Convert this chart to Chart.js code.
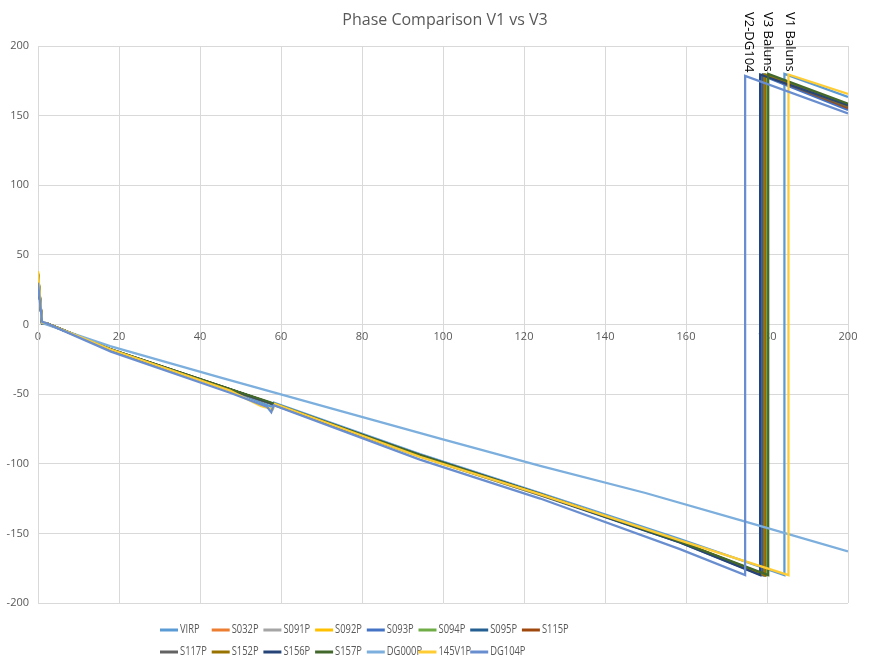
<!DOCTYPE html>
<html>
<head>
<meta charset="utf-8">
<script src="https://cdn.jsdelivr.net/npm/chart.js@4"></script>
<style>
  html, body { margin: 0; padding: 0; background: #fff; }
  #wrap { width: 892px; height: 666px; }
</style>
</head>
<body>
<div id="wrap"><canvas id="myChart"></canvas></div>
<script>
// series names, in legend order
const seriesNames = ["VIRP", "S032P", "S091P", "S092P", "S093P", "S094P", "S095P", "S115P",
  "S117P", "S152P", "S156P", "S157P", "DG000P", "145V1P", "DG104P"];

// [frequency, phase] points
const VIRP   = [[0,37],[1,1.5],[2,1],[18,-18],[47.4,-47],[57.5,-59],[58.2,-56],[94.3,-93],[124,-121],[158.5,-154],[184.3,-180],[184.3,180],[200,163.5]];
const S032P  = [[0,36],[1,1],[2,1],[18,-18],[47.4,-46.6],[57,-56],[94.3,-94],[124,-122],[158.5,-156],[179.6,-180],[179.6,179],[200,155]];
const S091P  = [[0,36],[1,1],[2,1],[18,-18],[47.4,-46.6],[57,-56],[94.3,-94],[124,-122],[158.5,-156],[179.4,-180],[179.4,179],[200,156]];
const S092P  = [[0,38],[1,1],[2,1],[18,-18],[47.4,-46.8],[57,-56.5],[94.3,-95],[124,-122.5],[158.5,-155.5],[179.3,-180],[179.3,179],[200,158]];
const S093P  = [[0,35],[1,1],[2,1],[18,-18.5],[47.4,-47],[57,-56.5],[94.3,-94.5],[124,-122.5],[158.5,-156.5],[178.6,-180],[178.6,179],[200,154]];
const S094P  = [[0,36],[1,1],[2,1],[18,-18],[47.4,-46.6],[57,-56],[94.3,-94],[124,-122],[158.5,-156],[179.8,-180],[179.8,179.5],[200,157]];
const S095P  = [[0,36],[1,1],[2,1],[18,-18],[47.4,-46.6],[57,-56],[94.3,-94],[124,-122],[158.5,-156],[179,-180],[179,179.5],[200,157.5]];
const S115P  = [[0,35],[1,1],[2,1],[18,-18],[47.4,-46.6],[57,-56],[94.3,-94],[124,-122],[158.5,-156],[179.5,-180],[179.5,179],[200,155.5]];
const S117P  = [[0,35],[1,1],[2,1],[18,-18],[47.4,-46.6],[57,-56],[94.3,-94],[124,-122],[158.5,-156],[179.2,-180],[179.2,179],[200,156.5]];
const S152P  = [[0,37],[1,1],[2,1],[18,-18],[47.4,-46.6],[57,-56],[94.3,-94],[124,-122],[158.5,-156],[179.4,-180],[179.4,179.5],[200,157]];
const S156P  = [[0,36],[1,1],[2,1],[18,-18],[47.4,-46.6],[57,-56],[94.3,-94],[124,-122],[158.5,-156.5],[178.3,-180],[178.3,179.5],[200,157.5]];
const S157P  = [[0,36],[1,1],[2,1],[18,-17.8],[47.4,-46.4],[57,-55.5],[94.3,-93.8],[124,-121.8],[158.5,-156],[180.3,-180],[180.3,180],[200,158.5]];
const DG000P = [[0,36],[1,1],[2,0],[17.8,-15.5],[44.9,-38],[74.6,-62],[99.3,-82],[124,-101.5],[150,-121],[174,-141],[200,-163]];
const V145V1P = [[0,38],[1,1.5],[2,1],[18,-18],[47.4,-47.5],[55,-58.5],[58,-61],[58.5,-57],[94.3,-95],[124,-122],[158.5,-155],[185.3,-180],[185.3,179.5],[200,165.5]];
const DG104P = [[0,30],[1,2],[2,1],[18,-19.5],[47.4,-49],[56.5,-59],[57.6,-63],[58.2,-58],[94.3,-97],[124,-125],[158.5,-161.3],[174.6,-180],[174.6,178.5],[200,151.5]];

const seriesData = [VIRP, S032P, S091P, S092P, S093P, S094P, S095P, S115P,
  S117P, S152P, S156P, S157P, DG000P, V145V1P, DG104P];

const seriesColors = ["#5B9BD5", "#ED7D31", "#A5A5A5", "#FFC000", "#4472C4", "#70AD47", "#255E91", "#9E480E",
  "#636363", "#997300", "#264478", "#43682B", "#7CAFDD", "#FFCD33", "#698ED0"];

// vertical annotations at the top
const noteTexts = ["V2-DG104", "V3 Baluns", "V1 Baluns"];
const noteX = [175.6, 180.1, 185.7];

const xTicks = { min: 0, max: 200, step: 20 };
const yTicks = { min: -200, max: 200, step: 50 };

const textGrey = "#595959";
const gridGrey = "#D9D9D9";

// title, legend grid and the rotated notes
const extras = {
  id: "extras",
  afterDraw(chart) {
    const c = chart.ctx;
    const xs = chart.scales.x;
    c.save();
    c.fillStyle = textGrey;
    c.font = "16px 'Open Sans'";
    c.textAlign = "center";
    c.textBaseline = "middle";
    c.fillText("Phase Comparison V1 vs V3", 445, 20);

    // legend, 8 per row like the original (narrow text like Calibri)
    c.font = "12px 'Open Sans'";
    c.textAlign = "left";
    chart.data.datasets.forEach((ds, i) => {
      const col = i % 8, row = Math.floor(i / 8);
      const x0 = 160 + col * 51.7;
      const y0 = 630 + row * 22;
      c.strokeStyle = ds.borderColor;
      c.lineWidth = 3;
      c.beginPath();
      c.moveTo(x0, y0);
      c.lineTo(x0 + 18, y0);
      c.stroke();
      c.fillStyle = textGrey;
      const w = c.measureText(ds.label).width;
      c.fillText(ds.label, x0 + 20, y0, w * 0.78);
    });

    // notes, reading downwards
    c.fillStyle = "#000";
    c.font = "13px 'Open Sans'";
    c.textBaseline = "middle";
    noteTexts.forEach((t, i) => {
      const px = xs.getPixelForValue(noteX[i]);
      c.save();
      c.translate(px, 12);
      c.rotate(Math.PI / 2);
      c.fillText(t, 0, 0);
      c.restore();
    });
    c.restore();
  }
};

let ctx = document.getElementById("myChart").getContext("2d");
let myChart = new Chart(ctx, {
  type: "line",
  data: {
    datasets: seriesNames.map((name, i) => ({
      label: name,
      data: seriesData[i].map(p => ({ x: p[0], y: p[1] })),
      borderColor: seriesColors[i],
      backgroundColor: seriesColors[i],
      borderWidth: 2.25,
      pointRadius: 0,
      tension: 0,
      fill: false,
      // later series on top, as in the original
      order: seriesNames.length - i
    }))
  },
  options: {
    responsive: true,
    maintainAspectRatio: false,
    animation: false,
    layout: { padding: { top: 46, right: 44, bottom: 63, left: 0 } },
    plugins: {
      legend: { display: false },
      title: { display: false },
      tooltip: { enabled: false }
    },
    scales: {
      x: {
        type: "linear",
        position: { y: 0 },
        min: xTicks.min,
        max: xTicks.max,
        ticks: {
          stepSize: xTicks.step,
          color: textGrey,
          font: { family: "'Open Sans'", size: 11 },
          padding: 6,
          maxRotation: 0
        },
        grid: { color: gridGrey, drawTicks: false },
        border: { color: gridGrey }
      },
      y: {
        type: "linear",
        min: yTicks.min,
        max: yTicks.max,
        afterFit: (s) => { s.width = 38; },
        ticks: {
          stepSize: yTicks.step,
          color: textGrey,
          font: { family: "'Open Sans'", size: 11 },
          padding: 9
        },
        grid: { color: gridGrey, drawTicks: false },
        border: { color: gridGrey }
      }
    }
  },
  plugins: [extras]
});
</script>
</body>
</html>
